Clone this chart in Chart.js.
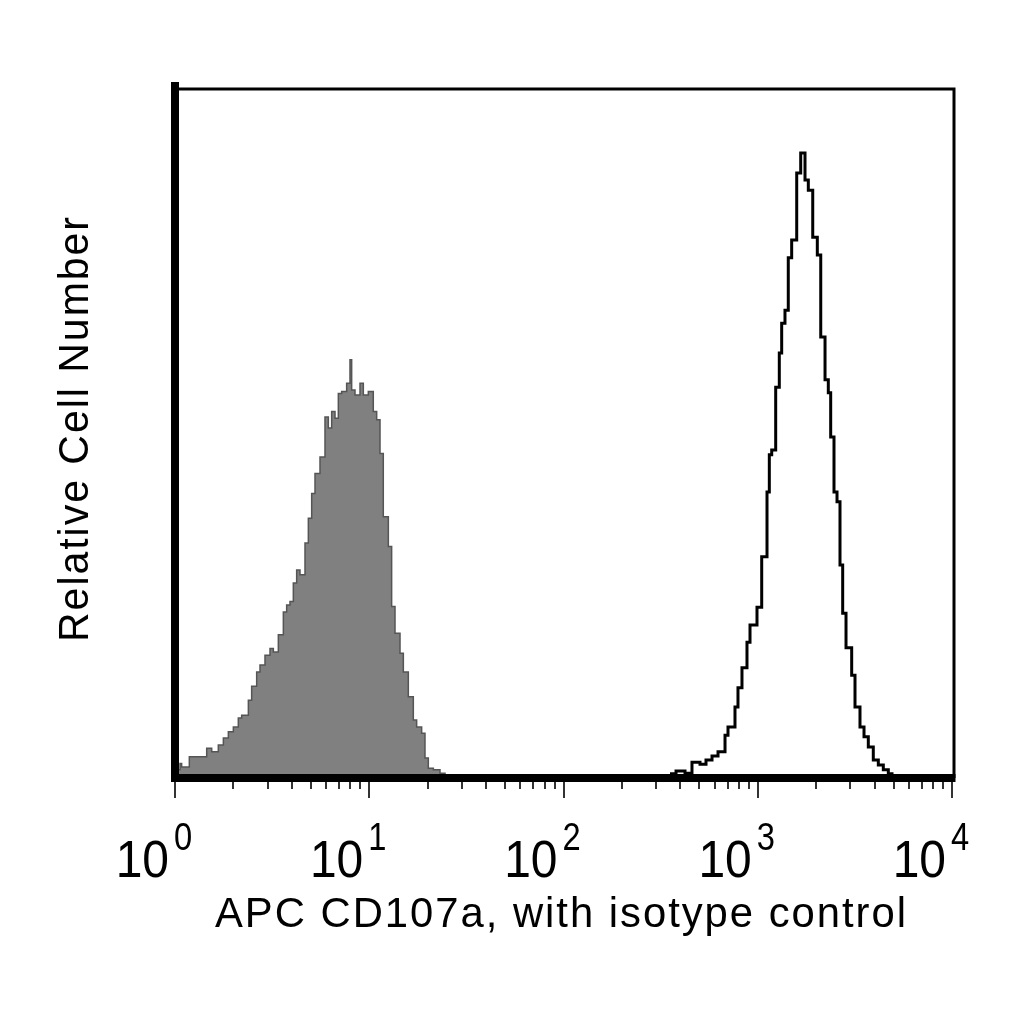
<!DOCTYPE html>
<html>
<head>
<meta charset="utf-8">
<script src="https://cdn.jsdelivr.net/npm/chart.js@4.4.1/dist/chart.umd.min.js"></script>
<style>
  html, body { margin: 0; padding: 0; background: #fff; }
  #c { display: block; }
</style>
</head>
<body>
<canvas id="c" width="1024" height="1024"></canvas>
<script>
// isotype control (grey, filled) - bin start and relative count
var greyX = [1, 1.061, 1.082, 1.185, 1.456, 1.545, 1.671, 1.774, 1.882, 1.997,
  2.118, 2.204, 2.386, 2.481, 2.633, 2.739, 2.906, 3.084, 3.208, 3.404,
  3.612, 3.757, 3.908, 4.066, 4.230, 4.400, 4.669, 4.858, 5.054, 5.257,
  5.578, 5.918, 6.157, 6.405, 6.664, 6.932, 7.211, 7.650, 7.959, 8.118,
  8.446, 8.963, 9.322, 9.890, 10.49, 10.92, 11.36, 11.81, 12.54, 13.04,
  13.57, 14.40, 14.98, 15.89, 16.86, 17.54, 18.61, 19.36, 20.14, 21.38,
  23.13, 24.55];
var greyY = [1.2, 2.1, 1.6, 3.1, 4.3, 3.8, 4.8, 5.8, 6.7, 7.4,
  8.7, 9.1, 11.3, 13.3, 15.4, 16.4, 17.8, 18.8, 18.3, 20.8,
  24.1, 25.1, 25.6, 28.3, 30.2, 29.5, 34.1, 37.7, 41.3, 44.2,
  46.6, 52.4, 50.8, 53.2, 52.2, 55.8, 56.1, 57.3, 60.7, 56.3,
  55.6, 57.3, 55.6, 56.1, 53.2, 52.0, 47.1, 37.9, 33.6, 24.9,
  21.0, 18.1, 15.4, 11.8, 8.4, 7.4, 6.5, 2.9, 1.4, 1.2,
  0.7, 0];

// CD107a stained (open black outline)
var whiteX = [353.5, 379.6, 422.2, 458.6, 504.3, 541.5, 581.5, 624.4, 678.4, 702.8,
  763.5, 791.1, 829.5, 880.2, 912.3, 991.1, 1048, 1116, 1147, 1180,
  1237, 1291, 1328, 1381, 1436, 1495, 1587, 1664, 1751, 1821,
  1919, 2026, 2110, 2220, 2308, 2374, 2469, 2559, 2651, 2737,
  2847, 3045, 3167, 3360, 3524, 3708, 3934, 4175, 4430, 4700,
  4911];
var whiteY = [0.6, 1.0, 0.7, 2.3, 2.0, 2.6, 3.2, 3.8, 6.2, 7.4,
  10.3, 13.1, 16.0, 19.7, 22.2, 24.8, 32.1, 41.5, 46.9, 47.6,
  56.7, 61.7, 66.0, 67.9, 75.5, 78.1, 87.8, 90.7, 86.8, 85.3,
  78.5, 75.9, 64.0, 57.8, 55.9, 49.5, 41.5, 40.1, 30.9, 23.9,
  18.9, 14.9, 10.3, 7.4, 6.0, 4.5, 2.6, 1.9, 1.2, 0.6,
  0];

var tickExponents = ["0", "1", "2", "3", "4"];
var xTitle = "APC CD107a, with isotype control";
var yTitle = "Relative Cell Number";

var FONT = "'Liberation Sans', Arial, sans-serif";

function toPoints(xs, ys) {
  return xs.map(function (x, i) { return { x: x, y: ys[i] }; });
}

// draw text squeezed/stretched to a given width
function fitText(ctx, text, x, y, width, size, align) {
  ctx.save();
  ctx.font = size + "px " + FONT;
  if ("letterSpacing" in ctx) ctx.letterSpacing = "2px";
  var w = ctx.measureText(text).width;
  var s = width / w;
  ctx.translate(x, y);
  ctx.scale(s, 1);
  ctx.textAlign = align;
  ctx.textBaseline = "alphabetic";
  ctx.fillText(text, 0, 0);
  ctx.restore();
}

const facsAxes = {
  id: "facsAxes",
  afterDatasetsDraw(chart) {
    const ctx = chart.ctx, a = chart.chartArea, xs = chart.scales.x;
    ctx.save();
    ctx.strokeStyle = "#000";
    ctx.lineCap = "butt";
    // thin top and right border
    ctx.lineWidth = 3;
    ctx.beginPath();
    ctx.moveTo(a.left, a.top);
    ctx.lineTo(a.right + 2, a.top);
    ctx.lineTo(a.right + 2, a.bottom);
    ctx.stroke();
    // thick left and bottom axis
    ctx.lineWidth = 8;
    ctx.beginPath();
    ctx.moveTo(a.left, a.top - 7);
    ctx.lineTo(a.left, a.bottom + 4);
    ctx.stroke();
    ctx.beginPath();
    ctx.moveTo(a.left - 4, a.bottom);
    ctx.lineTo(a.right + 3.5, a.bottom);
    ctx.stroke();

    // tick marks, long at decades
    ctx.strokeStyle = "#333";
    ctx.lineWidth = 2;
    for (let d = 0; d < tickExponents.length; d++) {
      for (let m = 1; m <= 9; m++) {
        if (d == tickExponents.length - 1 && m > 1) break;
        const px = Math.round(xs.getPixelForValue(m * Math.pow(10, d)));
        ctx.beginPath();
        ctx.moveTo(px, a.bottom + 4);
        ctx.lineTo(px, a.bottom + (m == 1 ? 20 : 11));
        ctx.stroke();
      }
    }

    // tick labels 10^n
    ctx.fillStyle = "#000";
    for (let d = 0; d < tickExponents.length; d++) {
      const px = xs.getPixelForValue(Math.pow(10, d));
      ctx.save();
      ctx.font = "51px " + FONT;
      ctx.translate(px - 6, a.bottom + 99);
      ctx.scale(0.94, 1);
      ctx.textAlign = "right";
      ctx.fillText("10", 0, 0);
      ctx.restore();
      ctx.save();
      ctx.font = "38px " + FONT;
      ctx.translate(px - 1, a.bottom + 72);
      ctx.scale(0.86, 1);
      ctx.textAlign = "left";
      ctx.fillText(tickExponents[d], 0, 0);
      ctx.restore();
    }

    // axis titles
    fitText(ctx, xTitle, 215, 927, 693, 42, "left");
    ctx.save();
    ctx.translate(88, 428.5);
    ctx.rotate(-Math.PI / 2);
    fitText(ctx, yTitle, 0, 0, 427, 42, "center");
    ctx.restore();
    ctx.restore();
  }
};

new Chart(document.getElementById("c"), {
  type: "line",
  data: {
    datasets: [{
      data: toPoints(greyX, greyY),
      stepped: "before",
      fill: "origin",
      backgroundColor: "#808080",
      borderColor: "#555",
      borderWidth: 1.5,
      pointRadius: 0
    }, {
      data: toPoints(whiteX, whiteY),
      stepped: "before",
      fill: false,
      borderColor: "#000",
      borderWidth: 3,
      pointRadius: 0
    }]
  },
  options: {
    responsive: false,
    devicePixelRatio: 1,
    animation: false,
    events: [],
    layout: { padding: { left: 175, right: 72, top: 89, bottom: 246 } },
    scales: {
      x: { type: "logarithmic", min: 1, max: 10000, display: false },
      y: { type: "linear", min: 0, max: 100, display: false }
    },
    plugins: { legend: { display: false }, tooltip: { enabled: false } }
  },
  plugins: [facsAxes]
});
</script>
</body>
</html>
